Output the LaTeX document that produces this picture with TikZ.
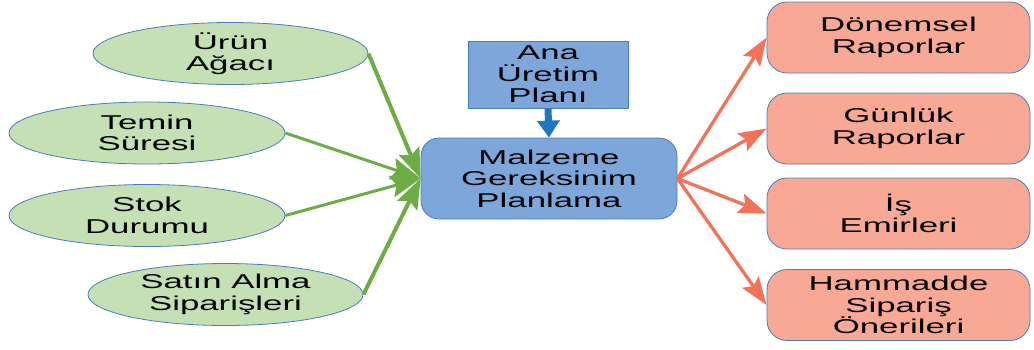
\documentclass[tikz,border=0pt]{standalone}
\usepackage{fontspec}
\setmainfont{Liberation Sans}[FakeStretch=1.74]
\usetikzlibrary{shapes.geometric,arrows.meta}

\definecolor{leafgreen}{HTML}{C5E0B4}
\definecolor{arrowgreen}{HTML}{6EAD45}
\definecolor{planblue}{HTML}{7DA7DA}
\definecolor{edgeblue}{HTML}{4A7EBB}
\definecolor{downblue}{HTML}{1F77C2}
\definecolor{salmon}{HTML}{F7A995}
\definecolor{arroworange}{HTML}{F2735A}

\tikzset{
  every node/.style={font=\fontsize{20}{21.5}\selectfont, align=center, inner sep=0pt},
  inputoval/.style={ellipse, draw=edgeblue, line width=0.8pt, fill=leafgreen,
    minimum width=#1, minimum height=62pt},
  planbox/.style={rectangle, draw=edgeblue, line width=0.8pt, fill=planblue},
  outbox/.style={rectangle, rounded corners=20pt, draw=edgeblue, line width=0.8pt,
    fill=salmon, minimum width=263pt, minimum height=71pt},
  greenarrow/.style={draw=arrowgreen, line width=#1,
    -{Stealth[length=30pt,width=22pt,inset=5pt]}},
  orangearrow/.style={draw=arroworange, line width=3.3pt,
    -{Stealth[length=28pt,width=20pt,inset=5pt]}},
}

\begin{document}
\begin{tikzpicture}[x=1pt,y=-1pt]
  \useasboundingbox (0,0) rectangle (1034,349);

  % inputs
  \node[inputoval=275pt] (urun)  at (230.5,53.5) {Ürün\\Ağacı};
  \node[inputoval=276pt] (temin) at (147,133)  {Temin\\Süresi};
  \node[inputoval=276pt] (stok)  at (147,215.5)  {Stok\\Durumu};
  \node[inputoval=275pt] (satin) at (225.5,294.5) {Satın Alma\\Siparişleri};

  % planning boxes
  \node[planbox, minimum width=160pt, minimum height=67pt] (ana) at (548,74.5) {Ana\\Üretim\\Planı};
  \node[planbox, rounded corners=18pt, minimum width=256pt, minimum height=81pt] (mrp) at (549,178.5)
    {Malzeme\\Gereksinim\\Planlama};

  % outputs
  \node[outbox] (donem) at (898.5,37.5)  {Dönemsel\\Raporlar};
  \node[outbox] (gunluk) at (898.5,128.5) {Günlük\\Raporlar};
  \node[outbox] (is)    at (898.5,213.5) {İş\\Emirleri};
  \node[outbox] (ham)   at (898.5,305)   {Hammadde\\Sipariş\\Önerileri};

  % inputs into MRP
  \draw[greenarrow=4pt] (urun.east) -- (mrp.west);
  \draw[greenarrow=3pt] (temin.east) -- (mrp.west);
  \draw[greenarrow=3pt] (stok.east) -- (mrp.west);
  \draw[greenarrow=4pt] (satin.east) -- (mrp.west);

  % master plan into MRP
  \draw[draw=downblue, line width=7pt, -{Triangle[length=17pt,width=22pt]}] (ana.south) -- (mrp.north);

  % MRP outputs
  \draw[orangearrow] (mrp.east) -- (donem.west);
  \draw[orangearrow] (mrp.east) -- (gunluk.west);
  \draw[orangearrow] (mrp.east) -- (is.west);
  \draw[orangearrow] (mrp.east) -- (ham.west);
\end{tikzpicture}
\end{document}
